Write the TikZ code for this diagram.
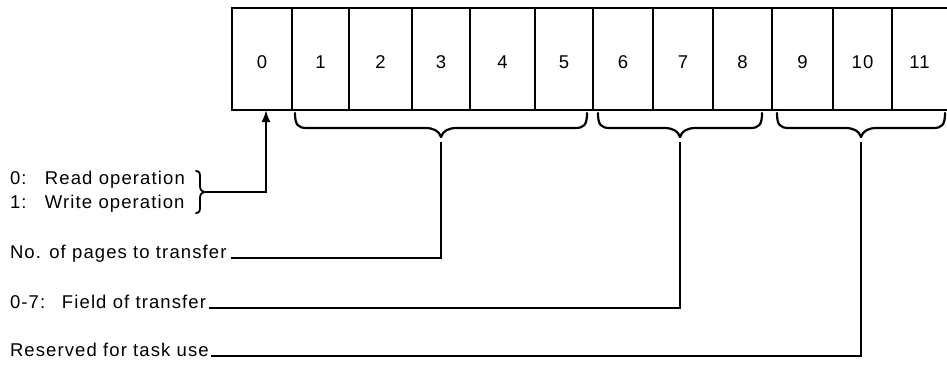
\documentclass[tikz,border=0pt]{standalone}
\usepackage{fontspec}
\setmainfont[LetterSpace=6]{Liberation Sans}
\usetikzlibrary{arrows.meta}
\newcommand\diagfont{\fontsize{18.5pt}{22pt}\selectfont}
\tikzset{
  cell/.style={draw, line width=2.2pt, minimum height=102pt, inner sep=0pt, outer sep=0pt,
               anchor=north west, text height=19pt, text depth=0pt, font=\diagfont},
  lbl/.style={anchor=base west, inner sep=0pt, outer sep=0pt, font=\diagfont},
  wire/.style={line width=2.2pt},
  bracket/.style={line width=2.2pt, line cap=round, line join=round},
}
\begin{document}
\begin{tikzpicture}[x=1pt,y=-1pt]
\useasboundingbox (0,0) rectangle (947,364);

% register cells
\node[cell, minimum width=60pt] (c0)  at (232,8) {0};
\node[cell, minimum width=57pt] (c1)  at (292,8) {1};
\node[cell, minimum width=63pt] (c2)  at (349,8) {2};
\node[cell, minimum width=58pt] (c3)  at (412,8) {3};
\node[cell, minimum width=65pt] (c4)  at (470,8) {4};
\node[cell, minimum width=58pt] (c5)  at (535,8) {5};
\node[cell, minimum width=60pt] (c6)  at (593,8) {6};
\node[cell, minimum width=60pt] (c7)  at (653,8) {7};
\node[cell, minimum width=59pt] (c8)  at (713,8) {8};
\node[cell, minimum width=61pt] (c9)  at (772,8) {9};
\node[cell, minimum width=59pt] (c10) at (833,8) {10};
\node[cell, draw=none, minimum width=55pt] (c11) at (892,8) {11};
\draw[wire] (c11.north east) -- (c11.north west) -- (c11.south west) -- (c11.south east);

% braces under the cells
\draw[bracket] (295,113) .. controls (295,125) and (298,128) .. (307,128) -- (425,128)
  .. controls (434,128) and (439,131) .. (441,137) .. controls (443,131) and (448,128) .. (457,128)
  -- (575,128) .. controls (584,128) and (587,125) .. (587,113);
\draw[bracket] (598,113) .. controls (598,125) and (601,128) .. (610,128) -- (664,128)
  .. controls (673,128) and (678,131) .. (680,137) .. controls (682,131) and (687,128) .. (696,128)
  -- (750,128) .. controls (759,128) and (762,125) .. (762,113);
\draw[bracket] (777,113) .. controls (777,125) and (780,128) .. (789,128) -- (845,128)
  .. controls (854,128) and (859,131) .. (861,137) .. controls (863,131) and (868,128) .. (877,128)
  -- (933,128) .. controls (942,128) and (945,125) .. (945,113);
\coordinate (t1) at (441,142);
\coordinate (t2) at (680,142);
\coordinate (t3) at (861,142);

% labels
\node[lbl] (rd) at (10,184) {\makebox[35pt][l]{0:}Read operation};
\node[lbl] (wr) at (10,208) {\makebox[35pt][l]{1:}Write operation};
\node[lbl] (np) at (10,258) {No. of pages to transfer};
\node[lbl] (ft) at (10,308) {\makebox[52pt][l]{0-7:}Field of transfer};
\node[lbl] (rs) at (10,356) {Reserved for task use};

% small brace for read/write
\draw[line width=1.8pt, line cap=round] (196,171) .. controls (200,171) and (200,174) .. (200,178) -- (200,186)
  .. controls (200,190) and (202,192) .. (206,192) .. controls (202,192) and (200,194) .. (200,198)
  -- (200,206) .. controls (200,210) and (200,213) .. (196,213);
\coordinate (rw) at (206,192);

% connectors
\draw[wire, -{Latex[length=12pt,width=9pt]}] (rw) -| ([xshift=4pt]c0.south);
\draw[wire] ([xshift=4pt]np.base east) -| (t1);
\draw[wire] ([xshift=3pt]ft.base east) -| (t2);
\draw[wire] ([xshift=2pt]rs.base east) -| (t3);
\end{tikzpicture}
\end{document}
